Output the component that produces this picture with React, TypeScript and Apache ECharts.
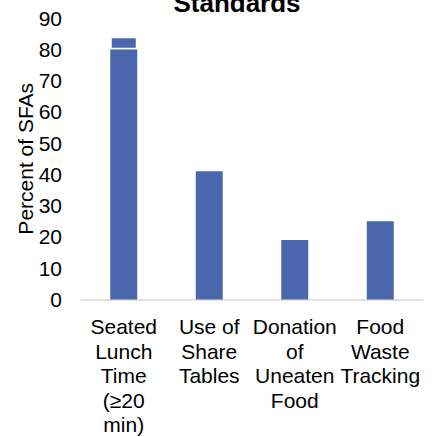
import React, { useEffect, useRef } from "react";
import * as echarts from "echarts";

// Share of SFAs meeting each standard (percent)
const categories = [
  "Seated\nLunch\nTime\n(≥20\nmin)",
  "Use of\nShare\nTables",
  "Donation\nof\nUneaten\nFood",
  "Food\nWaste\nTracking",
];
const baseValues = [80, 41, 19, 25];
const upperValues: (number | string)[] = [4, "-", "-", "-"];
const yTicks = { min: 0, max: 90, interval: 10 };

const BAR = "#4a66ac";
const FONT = "Liberation Sans, Arial, sans-serif";

export default function App() {
  const ref = useRef<HTMLDivElement>(null);

  useEffect(() => {
    if (!ref.current) return;
    const chart = echarts.init(ref.current, undefined, { renderer: "svg" });
    chart.setOption({
      animation: false,
      backgroundColor: "#fff",
      textStyle: { fontFamily: FONT },
      graphic: [
        {
          type: "text",
          x: 237,
          y: 16,
          style: {
            text: "Standards",
            fontFamily: FONT,
            fontSize: 26,
            fontWeight: "bold",
            fill: "#000",
            align: "center",
            verticalAlign: "bottom",
          },
        },
      ],
      grid: { left: 81, right: 14, top: 18, bottom: 137, containLabel: false },
      xAxis: {
        type: "category",
        data: categories,
        axisLine: { show: true, lineStyle: { color: "#d9d9d9", width: 1.5 } },
        axisTick: { show: false },
        axisLabel: {
          interval: 0,
          margin: 15,
          fontSize: 21,
          lineHeight: 24.5,
          color: "#000",
          fontFamily: FONT,
          align: "center",
          verticalAlign: "top",
        },
      },
      yAxis: {
        type: "value",
        min: yTicks.min,
        max: yTicks.max,
        interval: yTicks.interval,
        name: "Percent of SFAs",
        nameLocation: "middle",
        nameGap: 45,
        nameMoveOverlap: false,
        nameTextStyle: { fontSize: 21, color: "#000", fontFamily: FONT },
        axisLine: { show: false },
        axisTick: { show: false },
        splitLine: { show: false },
        axisLabel: { fontSize: 21, color: "#000", margin: 19, fontFamily: FONT },
      },
      series: [
        {
          type: "bar",
          stack: "total",
          data: baseValues,
          barWidth: 27,
          itemStyle: { color: BAR },
        },
        {
          type: "bar",
          stack: "total",
          data: upperValues,
          barWidth: 27,
          itemStyle: { color: BAR, borderColor: "#fff", borderWidth: 1.5 },
        },
      ],
    });
    return () => chart.dispose();
  }, []);

  return <div ref={ref} style={{ width: 437, height: 437, position: "absolute", left: 0, top: 0 }} />;
}
